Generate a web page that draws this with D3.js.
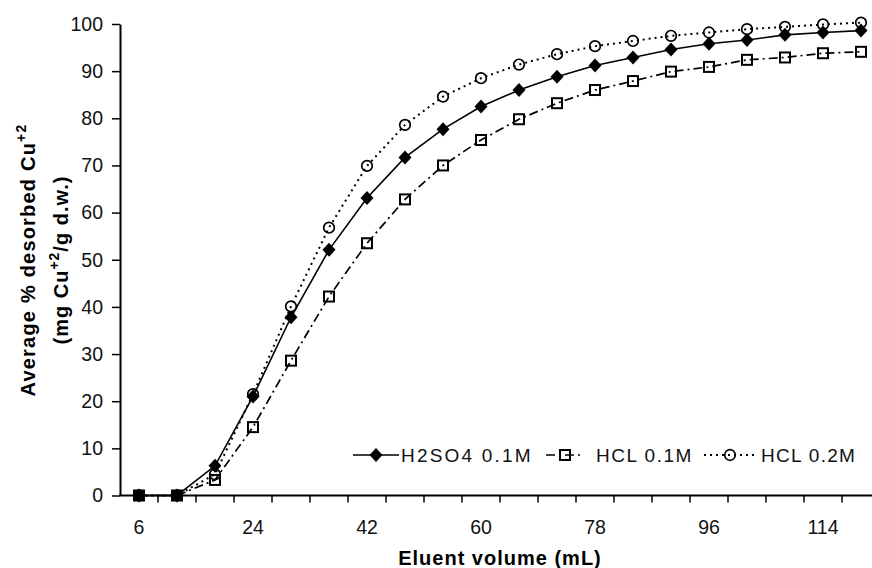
<!DOCTYPE html>
<html>
<head>
<meta charset="utf-8">
<script src="https://cdn.jsdelivr.net/npm/d3@7"></script>
<style>
  body { margin: 0; background: #fff; }
  svg { font-family: Arial, "Liberation Sans", sans-serif; }
</style>
</head>
<body>
<div id="chart"></div>
<script>
// Data
const volumes = [6, 12, 18, 24, 30, 36, 42, 48, 54, 60, 66, 72, 78, 84, 90, 96, 102, 108, 114, 120];
const h2so4 = [0, 0, 6.3, 21, 37.8, 52.1, 63.1, 71.7, 77.7, 82.5, 86, 88.8, 91.2, 92.9, 94.6, 95.8, 96.6, 97.7, 98.2, 98.6];
const hcl01 = [0, 0, 3.3, 14.5, 28.6, 42.2, 53.5, 62.8, 70, 75.4, 79.8, 83.2, 86, 87.9, 89.9, 90.9, 92.4, 92.9, 93.8, 94.1];
const hcl02 = [0, 0, 4.5, 21.5, 40.1, 56.8, 69.9, 78.6, 84.6, 88.5, 91.4, 93.6, 95.3, 96.4, 97.5, 98.2, 98.9, 99.4, 99.9, 100.3];
const xLabels = [6, 24, 42, 60, 78, 96, 114];
const yTicks = [0, 10, 20, 30, 40, 50, 60, 70, 80, 90, 100];
const seriesNames = ["H2SO4 0.1M", "HCL 0.1M", "HCL 0.2M"];

const W = 872, H = 568;
const svg = d3.select("#chart").append("svg")
    .attr("width", W)
    .attr("height", H);

// category axis like the original spreadsheet chart
const x = d3.scaleBand().domain(volumes).range([120, 880]).padding(0);
const y = d3.scaleLinear().domain([0, 100]).range([495.5, 24]);
const cx = v => x(v) + x.bandwidth() / 2;

// y axis
const yAxis = svg.append("g")
    .attr("transform", "translate(120,0)")
    .call(d3.axisLeft(y).tickValues(yTicks).tickSizeInner(8).tickSizeOuter(0).tickPadding(9));
yAxis.select(".domain").attr("stroke", "#000").attr("stroke-width", 2);
yAxis.selectAll(".tick line").attr("stroke", "#000").attr("stroke-width", 1.5);
yAxis.selectAll(".tick text")
    .attr("font-size", 19.5)
    .attr("font-family", "Arial, 'Liberation Sans', sans-serif")
    .attr("fill", "#111");

// x axis line and ticks at category boundaries
svg.append("line")
    .attr("x1", 119).attr("x2", W)
    .attr("y1", y(0)).attr("y2", y(0))
    .attr("stroke", "#000").attr("stroke-width", 2);

svg.append("g").selectAll("line")
    .data(volumes.slice(1))
    .join("line")
    .attr("x1", d => x(d)).attr("x2", d => x(d))
    .attr("y1", y(0)).attr("y2", y(0) + 7)
    .attr("stroke", "#000").attr("stroke-width", 1.5);

svg.append("g").selectAll("text")
    .data(xLabels)
    .join("text")
    .attr("x", d => cx(d))
    .attr("y", 534)
    .attr("text-anchor", "middle")
    .attr("font-size", 19.5)
    .attr("fill", "#111")
    .text(d => d);

// axis titles
svg.append("text")
    .attr("x", 500).attr("y", 565)
    .attr("text-anchor", "middle")
    .attr("font-size", 20)
    .attr("font-weight", "bold")
    .attr("letter-spacing", 1)
    .text("Eluent volume (mL)");

const yTitle = svg.append("g").attr("transform", "translate(0,260) rotate(-90)");
const t1 = yTitle.append("text")
    .attr("x", 0).attr("y", 35)
    .attr("text-anchor", "middle")
    .attr("font-size", 20)
    .attr("font-weight", "bold")
    .attr("letter-spacing", 1.2);
t1.append("tspan").text("Average % desorbed Cu");
t1.append("tspan").attr("dy", -9).attr("font-size", 14).text("+2");

const t2 = yTitle.append("text")
    .attr("x", 0).attr("y", 68)
    .attr("text-anchor", "middle")
    .attr("font-size", 20)
    .attr("font-weight", "bold")
    .attr("letter-spacing", 1);
t2.append("tspan").text("(mg Cu");
t2.append("tspan").attr("dy", -9).attr("font-size", 14).text("+2");
t2.append("tspan").attr("dy", 9).text("/g d.w.)");

// series
const series = [
    { name: seriesNames[0], values: h2so4, dash: null, width: 1.6, marker: "diamond" },
    { name: seriesNames[1], values: hcl01, dash: "9,4,2,4", width: 1.7, marker: "square" },
    { name: seriesNames[2], values: hcl02, dash: "2,4", width: 2, marker: "circle" }
];

const line = d3.line().x((d, i) => cx(volumes[i])).y(d => y(d));

function drawMarker(g, type, px, py) {
    if (type === "diamond") {
        g.append("path")
            .attr("d", `M${px},${py - 7}L${px + 6.5},${py}L${px},${py + 7}L${px - 6.5},${py}Z`)
            .attr("fill", "#000");
    } else if (type === "square") {
        g.append("rect")
            .attr("x", px - 5).attr("y", py - 5)
            .attr("width", 10).attr("height", 10)
            .attr("fill", "none").attr("stroke", "#000").attr("stroke-width", 2);
    } else {
        g.append("circle")
            .attr("cx", px).attr("cy", py).attr("r", 5.3)
            .attr("fill", "none").attr("stroke", "#000").attr("stroke-width", 1.7);
    }
}

series.forEach(s => {
    const g = svg.append("g");
    g.append("path")
        .datum(s.values)
        .attr("d", line)
        .attr("fill", "none")
        .attr("stroke", "#000")
        .attr("stroke-width", s.width)
        .attr("stroke-dasharray", s.dash);
    s.values.forEach((v, i) => drawMarker(g, s.marker, cx(volumes[i]), y(v)));
});

// legend
const legendPos = [
    { x1: 353, x2: 399, tx: 401, ls: 2.2 },
    { x1: 546, x2: 584, tx: 596, ls: 1.5 },
    { x1: 704, x2: 756, tx: 761, ls: 1.3 }
];
const ly = 455;
series.forEach((s, i) => {
    const p = legendPos[i];
    const g = svg.append("g");
    g.append("line")
        .attr("x1", p.x1).attr("x2", p.x2)
        .attr("y1", ly).attr("y2", ly)
        .attr("stroke", "#000")
        .attr("stroke-width", s.width)
        .attr("stroke-dasharray", s.dash);
    drawMarker(g, s.marker, (p.x1 + p.x2) / 2, ly);
    g.append("text")
        .attr("x", p.tx).attr("y", ly + 7)
        .attr("font-size", 19)
        .attr("letter-spacing", p.ls)
        .attr("fill", "#111")
        .text(s.name);
});
</script>
</body>
</html>
